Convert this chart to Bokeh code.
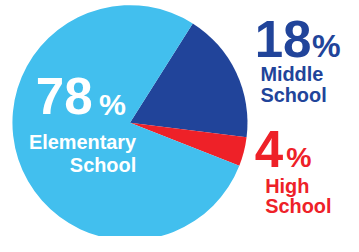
import math
from bokeh.plotting import figure
from bokeh.models import Range1d, ColumnDataSource
from bokeh.core.properties import value
from bokeh.embed import file_html
from bokeh.resources import INLINE

# ---- data ----
categories = ["Middle School", "High School", "Elementary School"]
shares = [18, 4, 78]
colors = ["#21449A", "#EE2128", "#42BFEE"]

REF_W, REF_H = 359, 252
W, H = 343, 236
SX, SY = W / REF_W, H / REF_H
p = figure(width=W, height=H, output_backend="svg", toolbar_location=None,
           x_range=Range1d(0, REF_W), y_range=Range1d(0, REF_H),
           min_border=0)
p.axis.visible = False
p.grid.visible = False
p.outline_line_color = None
p.background_fill_color = "white"

cx, cy, r = 135.5, REF_H - 130.5, 123
start0 = math.radians(57.7)
total = sum(shares)
starts, ends = [], []
a = start0
for s in shares:
    starts.append(a)
    a -= 2 * math.pi * s / total
    ends.append(a)

src = ColumnDataSource(dict(cat=categories, val=shares, start=starts, end=ends, color=colors))
p.wedge(x=cx, y=cy, radius=r, start_angle="start", end_angle="end", direction="clock",
        fill_color="color", line_color=None, source=src)

font = value("Liberation Sans")
K = 0.38  # empirical baseline correction (em)

def txt(x, base, t, size, color, align="left"):
    fs = size * (SX + SY) / 2
    y_img = base - K * fs / SY
    p.text(x=[x], y=[REF_H - y_img], text=[t], text_font=font,
           text_font_size=f"{fs:.1f}px", text_font_style="bold",
           text_color=color, text_align=align, text_baseline="alphabetic")

pct_labels = [f"{v}" for v in shares]

# Elementary
txt(37, 123, pct_labels[2], 54, "white")
txt(103, 123, "%", 32, "white")
txt(142, 159, "Elementary", 21, "white", "right")
txt(142, 184, "School", 21, "white", "right")

# Middle
txt(266, 62, pct_labels[0], 54, "#21449A")
txt(326, 62, "%", 34, "#21449A")
txt(272, 87, "Middle", 21, "#21449A")
txt(272, 109, "School", 21, "#21449A")

# High
txt(266, 179, pct_labels[1], 54, "#EE2128")
txt(299, 179, "%", 30, "#EE2128")
txt(277, 206, "High", 21, "#EE2128")
txt(277, 228, "School", 21, "#EE2128")

open("out.html", "w").write(file_html(p, INLINE))
